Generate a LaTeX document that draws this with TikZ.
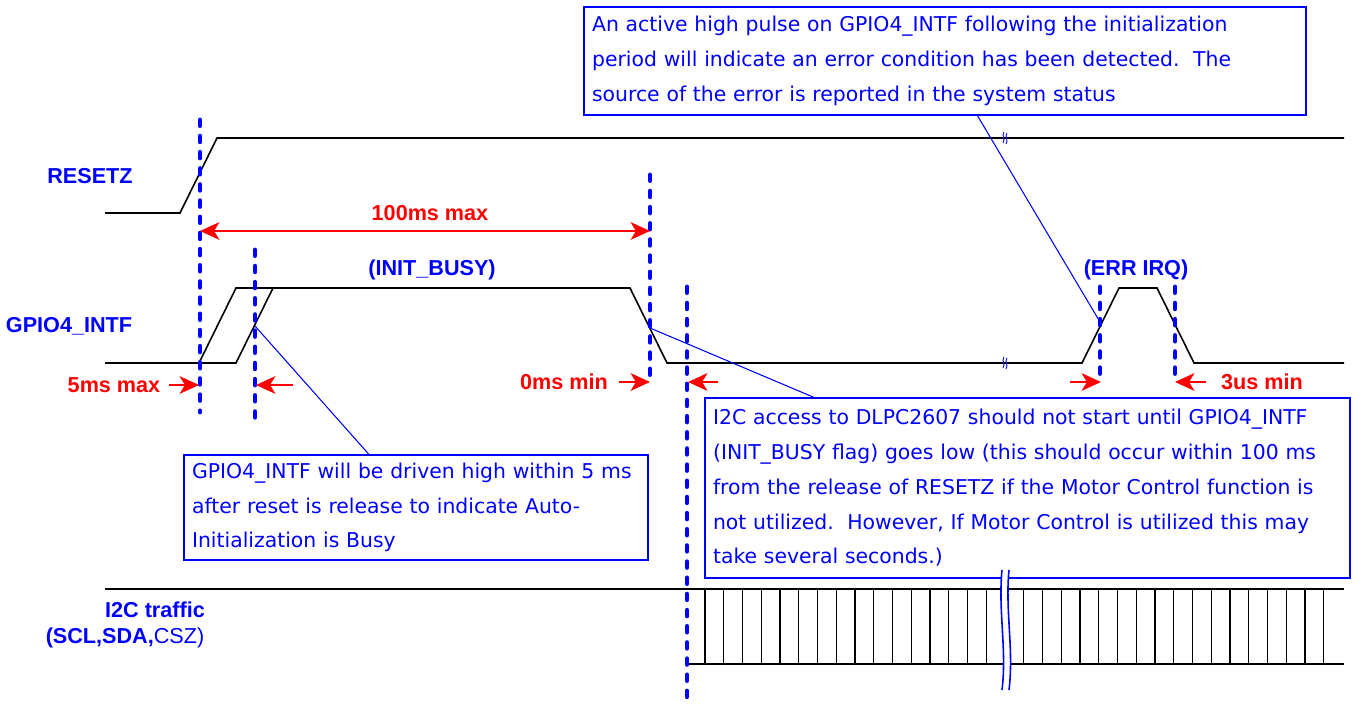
\documentclass[tikz,border=0pt]{standalone}
\usepackage{fontspec}
\setmainfont{DejaVu Sans}
\newfontfamily\lblfont{Liberation Sans}
\usetikzlibrary{arrows.meta,positioning,calc}

\begin{document}
\begin{tikzpicture}[x=0.02cm, y=-0.02cm,
    sig/.style={black, line width=0.9pt},
    vmark/.style={blue, line width=2.8pt, line cap=round, dash pattern=on 3.2pt off 6pt},
    lbl/.style={font=\lblfont\fontsize{12.3}{14}\selectfont\bfseries, text=blue},
    tim/.style={font=\lblfont\fontsize{12.3}{14}\selectfont\bfseries, text=red},
    tip/.tip={Stealth[length=11pt, width=10pt, inset=3pt]},
    tarrow/.style={-tip, red, line width=1.5pt},
    note/.style={draw=blue, line width=0.7pt, align=left, inner xsep=4.5pt, inner ysep=0pt, font=\fontsize{11.6}{19.8}\selectfont, text=blue},
    pointer/.style={blue, line width=0.6pt},
    brk/.style={blue, line width=0.9pt}
]
\useasboundingbox (0,0) rectangle (1359,705);

% Signal names
\node[lbl] (rst) at (90,176) {RESETZ};
\node[lbl] (gpio) at (69,326) {GPIO4\_INTF};
\node[lbl] (i2c) at (155,610) {I2C traffic};
\node[lbl] (pins) at (125,638) {(SCL,SDA,\mdseries CSZ)};
\node[lbl] (busy) at (432,270) {(INIT\_BUSY)};
\node[lbl] (errq) at (1136,270) {(ERR IRQ)};

% Waveforms
\draw[sig] (105,213) -- (180,213) -- (217,138) -- (1344,138);
\draw[sig] (105,363) -- (236,363) -- (273,288);
\draw[sig] (199,363) -- (236,288) -- (630,288) -- (667,363) -- (1082,363)
    -- (1119,288) -- (1157,288) -- (1194,363) -- (1344,363);
\draw[sig] (105,589) -- (1344,589);
\draw[sig] (687,664) -- (1344,664);
\foreach \k in {0,...,15,17,18,...,33}
    \draw[black, line width=0.7pt] ({705+18.75*\k},589) -- ({705+18.75*\k},664);

% Timing markers
\coordinate (d1t) at (200,120);  \coordinate (d1b) at (200,412);
\coordinate (d2t) at (255,250);  \coordinate (d2b) at (255,420);
\coordinate (d3t) at (650,175);  \coordinate (d3b) at (650,382);
\coordinate (d4t) at (687,287);  \coordinate (d4b) at (687,705);
\coordinate (d5t) at (1100,287); \coordinate (d5b) at (1100,382);
\coordinate (d6t) at (1175,287); \coordinate (d6b) at (1175,382);
\foreach \d in {d1,d2,d3,d4,d5,d6}
    \draw[vmark] (\d t) -- (\d b);

% Pointer targets
\coordinate (rise1) at (255,326);
\coordinate (fall1) at (650,328);
\coordinate (rise2) at (1100,322);

% 100ms window
\coordinate (w1) at (200,231);
\coordinate (w2) at (650,231);
\draw[tarrow, tip-tip] (w1) -- (w2);
\node[tim] (win) at (430,213) {100ms max};

% Edge arrows
\coordinate (a1s) at (169,385);  \coordinate (a1e) at (199,385);
\coordinate (a2s) at (293,385);  \coordinate (a2e) at (256,385);
\coordinate (a3s) at (619,382);  \coordinate (a3e) at (650,382);
\coordinate (a4s) at (718,382);  \coordinate (a4e) at (688,382);
\coordinate (a5s) at (1070,382); \coordinate (a5e) at (1101,382);
\coordinate (a6s) at (1206,382); \coordinate (a6e) at (1175,382);
\foreach \a in {a1,a2,a3,a4,a5,a6}
    \draw[tarrow] (\a s) -- (\a e);
\node[tim] (t5) at (114,385) {5ms max};
\node[tim] (t0) at (564,382) {0ms min};
\node[tim] (t3) at (1262,382) {3us min};

% Notes
\node[note, minimum width=14.44cm, minimum height=2.16cm, text width=14.12cm] (note1) at (945,61)
    {An active high pulse on GPIO4\_INTF following the initialization\\
     period will indicate an error condition has been detected.\ \ The\\
     source of the error is reported in the system status};
\node[note, minimum width=9.28cm, minimum height=2.10cm, text width=8.96cm] (note2) at (416,507.5)
    {GPIO4\_INTF will be driven high within 5 ms\\
     after reset is release to indicate Auto-\\
     Initialization is Busy};
\node[note, minimum width=12.90cm, minimum height=3.60cm, text width=12.58cm] (note3) at (1027.5,488)
    {I2C access to DLPC2607 should not start until GPIO4\_INTF\\
     (INIT\_BUSY flag) goes low (this should occur within 100 ms\\
     from the release of RESETZ if the Motor Control function is\\
     not utilized.\ \ However, If Motor Control is utilized this may\\
     take several seconds.)};
\draw[pointer] (note1) -- (rise2);
\draw[pointer] (note2) -- (rise1);
\draw[pointer] (note3) -- (fall1);

% Break marks
\fill[white] (1002,570) .. controls (998,610) and (1007,650) .. (1002,690)
    -- (1009,690) .. controls (1014,650) and (1005,610) .. (1009,570) -- cycle;
\draw[brk] (1002,570) .. controls (998,610) and (1007,650) .. (1002,690);
\draw[brk] (1009,570) .. controls (1005,610) and (1014,650) .. (1009,690);
\foreach \yy in {138,363} {
    \draw[brk, line width=0.5pt] (1004,\yy-6) .. controls (1001,\yy-2) and (1006,\yy+1) .. (1003,\yy+5);
    \draw[brk, line width=0.5pt] (1007,\yy-5) .. controls (1004,\yy-1) and (1009,\yy+2) .. (1006,\yy+6);
}
\end{tikzpicture}
\end{document}
